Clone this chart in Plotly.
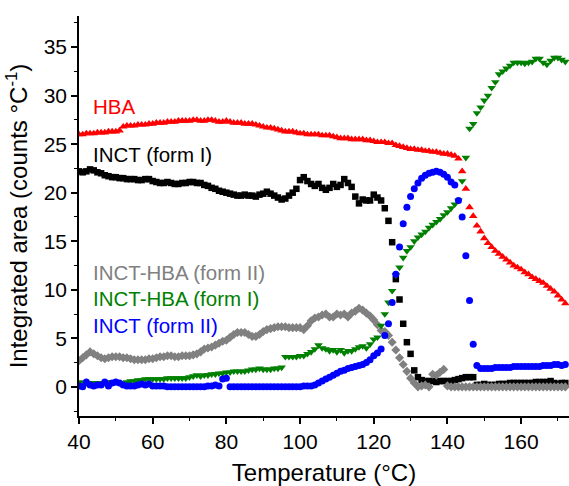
import plotly.graph_objects as go

temperature = [40, 41, 42, 43, 44, 45, 46, 47, 48, 49,
               50, 51, 52, 53, 54, 55, 56, 57, 58, 59,
               60, 61, 62, 63, 64, 65, 66, 67, 68, 69,
               70, 71, 72, 73, 74, 75, 76, 77, 78, 79,
               80, 81, 82, 83, 84, 85, 86, 87, 88, 89,
               90, 91, 92, 93, 94, 95, 96, 97, 98, 99,
               100, 101, 102, 103, 104, 105, 106, 107, 108, 109,
               110, 111, 112, 113, 114, 115, 116, 117, 118, 119,
               120, 121, 122, 123, 124, 125, 126, 127, 128, 129,
               130, 131, 132, 133, 134, 135, 136, 137, 138, 139,
               140, 141, 142, 143, 144, 145, 146, 147, 148, 149,
               150, 151, 152, 153, 154, 155, 156, 157, 158, 159,
               160, 161, 162, 163, 164, 165, 166, 167, 168, 169,
               170, 171, 172]

hba = [26.0, 26.0, 26.1, 26.1, 26.1, 26.2, 26.2, 26.2, 26.3, 26.3,
       26.3, 26.4, 26.8, 26.9, 26.9, 26.9, 27.0, 27.0, 27.0, 27.1,
       27.1, 27.2, 27.2, 27.2, 27.3, 27.3, 27.3, 27.4, 27.4, 27.4,
       27.4, 27.5, 27.5, 27.4, 27.4, 27.5, 27.5, 27.4, 27.3, 27.3,
       27.4, 27.3, 27.2, 27.2, 27.2, 27.1, 27.1, 27.1, 27.0, 26.9,
       26.8, 26.7, 26.7, 26.6, 26.5, 26.4, 26.3, 26.3, 26.3, 26.2,
       26.1, 26.1, 26.0, 26.0, 26.0, 26.0, 25.9, 25.9, 25.9, 25.8,
       25.7, 25.6, 25.6, 25.6, 25.5, 25.5, 25.5, 25.5, 25.4, 25.4,
       25.3, 25.2, 25.2, 25.2, 25.1, 25.1, 24.9, 24.8, 24.7, 24.6,
       24.5, 24.5, 24.4, 24.4, 24.3, 24.3, 24.2, 24.2, 24.1, 24.0,
       24.0, 23.9, 23.8, 23.5, 22.2, 20.4, 18.5, 17.6, 16.6, 16.0,
       15.3, 14.8, 14.4, 14.0, 13.7, 13.4, 13.1, 12.8, 12.5, 12.3,
       12.1, 11.8, 11.6, 11.3, 11.1, 10.9, 10.7, 10.4, 10.1, 9.8,
       9.4, 9.0, 8.6]

inct_form1 = [22.2, 22.1, 22.2, 22.4, 22.3, 22.1, 22.0, 21.8, 21.7, 21.6,
              21.6, 21.5, 21.5, 21.4, 21.4, 21.4, 21.3, 21.3, 21.4, 21.4,
              21.2, 21.1, 21.0, 21.0, 21.1, 21.0, 20.9, 20.9, 21.0, 21.0,
              21.1, 21.1, 21.0, 21.0, 20.8, 20.7, 20.5, 20.4, 20.2, 20.1,
              20.0, 19.9, 19.8, 19.7, 19.7, 19.8, 19.7, 19.7, 19.6, 19.8,
              19.9, 20.1, 19.9, 19.7, 19.5, 19.3, 19.4, 19.7, 20.0, 20.4,
              21.3, 21.6, 21.2, 20.9, 20.7, 20.9, 20.5, 20.3, 20.5, 20.9,
              20.6, 20.8, 21.4, 21.0, 20.6, 19.6, 18.9, 19.3, 19.2, 19.2,
              19.8, 19.5, 19.2, 18.4, 17.1, 14.9, 11.1, 9.0, 6.5, 4.6,
              3.4, 1.7, 1.0, 0.7, 0.6, 0.6, 0.6, 0.5, 0.6, 0.6,
              0.6, 0.6, 0.7, 0.8, 0.9, 1.0, 1.0, 1.0, 0.2, 0.2,
              0.3, 0.2, 0.2, 0.2, 0.3, 0.3, 0.3, 0.4, 0.4, 0.4,
              0.4, 0.4, 0.4, 0.4, 0.5, 0.5, 0.5, 0.5, 0.6, 0.4,
              0.3, 0.4, 0.4]

cocrystal_form2 = [2.7, 3.0, 3.3, 3.6, 3.4, 3.2, 3.0, 2.9, 3.0, 3.1,
                   3.1, 3.1, 3.0, 3.0, 2.9, 2.8, 2.8, 2.8, 2.8, 2.9,
                   2.9, 3.0, 3.1, 3.1, 3.2, 3.2, 3.1, 3.1, 3.2, 3.2,
                   3.2, 3.3, 3.4, 3.6, 3.9, 4.0, 4.1, 4.3, 4.5, 4.7,
                   4.8, 5.1, 5.4, 5.6, 5.6, 5.6, 5.4, 5.2, 5.2, 5.4,
                   5.7, 5.9, 6.0, 6.1, 6.2, 6.2, 6.2, 6.1, 6.1, 6.1,
                   6.1, 5.9, 6.3, 6.8, 7.1, 7.2, 7.4, 7.5, 7.2, 7.2,
                   7.5, 7.4, 7.5, 7.2, 7.6, 7.8, 8.1, 7.9, 7.6, 7.3,
                   6.9, 6.4, 5.8, 5.7, 5.3, 4.6, 3.8, 3.0, 2.3, 1.6,
                   0.9, 0.4, 0.0, 0.1, 0.2, 0.0, 1.3, 1.2, 1.5, 1.8,
                   0.1, 0.0, 0.0, 0.0, 0.0, 0.0, 0.0, 0.0, 0.0, 0.0,
                   0.0, 0.0, 0.0, 0.0, 0.0, 0.0, 0.0, 0.0, 0.0, 0.0,
                   0.0, 0.0, 0.0, 0.0, 0.0, 0.0, 0.0, 0.0, 0.0, 0.0,
                   0.0, 0.0, 0.0]

cocrystal_form1 = [0.5, 0.4, 0.4, 0.3, 0.4, 0.4, 0.4, 0.4, 0.5, 0.5,
                   0.5, 0.4, 0.3, 0.5, 0.6, 0.6, 0.7, 0.7, 0.8, 0.8,
                   0.8, 0.8, 0.8, 0.8, 0.9, 0.9, 0.9, 0.9, 0.9, 0.9,
                   1.0, 1.1, 1.2, 1.1, 1.2, 1.2, 1.3, 1.3, 1.4, 1.4,
                   1.5, 1.5, 1.6, 1.6, 1.6, 1.6, 1.7, 1.8, 1.8, 1.9,
                   1.8, 1.8, 1.8, 1.9, 1.9, 2.0, 3.1, 3.1, 3.1, 3.1,
                   3.2, 3.2, 3.4, 3.6, 3.9, 4.3, 4.0, 3.9, 3.7, 3.8,
                   3.6, 3.8, 3.5, 3.7, 3.7, 3.9, 4.1, 4.2, 4.0, 4.4,
                   4.9, 5.1, 6.3, 7.5, 8.7, 9.9, 11.5, 12.3, 13.3, 14.0,
                   14.4, 15.0, 15.4, 15.7, 16.0, 16.4, 16.7, 17.0, 17.3, 17.7,
                   18.0, 18.4, 18.8, 19.2, 21.2, 23.6, 26.6, 27.1, 28.2, 28.8,
                   29.5, 30.0, 30.8, 31.4, 32.2, 32.5, 32.8, 33.1, 33.4, 33.4,
                   33.4, 33.3, 33.4, 33.5, 33.8, 33.8, 33.4, 33.2, 33.6, 33.9,
                   33.9, 33.7, 33.5]

inct_form2 = [0.1, 0.0, 0.5, 0.2, 0.1, 0.2, 0.2, 0.5, 0.1, 0.4,
              0.5, 0.4, 0.2, 0.1, 0.1, 0.1, 0.2, 0.3, 0.2, 0.3,
              0.1, 0.1, 0.1, 0.1, 0.0, 0.0, 0.0, 0.0, 0.0, 0.0,
              0.0, 0.0, 0.0, 0.0, 0.0, 0.1, 0.1, 0.2, 0.1, 0.8,
              0.9, 0.0, 0.0, 0.0, 0.0, 0.0, 0.0, 0.0, 0.0, 0.0,
              0.0, 0.0, 0.0, 0.0, 0.0, 0.0, 0.0, 0.0, 0.0, 0.0,
              0.0, 0.1, 0.1, 0.1, 0.2, 0.4, 0.6, 0.8, 1.0, 1.2,
              1.4, 1.6, 1.7, 1.9, 2.0, 2.1, 2.2, 2.3, 2.5, 2.8,
              3.2, 3.5, 3.9, 5.3, 6.5, 8.7, 11.6, 14.4, 16.8, 18.5,
              19.6, 20.4, 21.0, 21.5, 21.8, 22.0, 22.1, 22.2, 22.1, 21.9,
              21.6, 21.1, 20.8, 19.2, 17.5, 13.5, 8.9, 4.4, 2.2, 1.9,
              1.9, 1.9, 1.9, 2.0, 2.0, 2.0, 2.0, 2.0, 2.1, 2.1,
              2.1, 2.1, 2.1, 2.1, 2.1, 2.1, 2.2, 2.2, 2.2, 2.3,
              2.3, 2.2, 2.3]

series_names = ["INCT (form I)", "HBA", "INCT-HBA (form II)", "INCT-HBA (form I)", "INCT (form II)"]
series_values = [inct_form1, hba, cocrystal_form2, cocrystal_form1, inct_form2]
series_colors = ["#000000", "#ff0000", "#808080", "#008000", "#0000ff"]
series_symbols = ["square", "triangle-up", "diamond", "triangle-down", "circle"]
series_sizes = [6.5, 7.5, 7, 7.5, 7]

# in-plot legend texts (data coordinates)
label_texts = ["HBA", "INCT (form I)", "INCT-HBA (form II)", "INCT-HBA (form I)", "INCT (form II)"]
label_colors = ["#ff0000", "#000000", "#808080", "#008000", "#0000ff"]
label_y = [28.9, 23.9, 11.8, 9.1, 6.3]
label_x = 43.2

FONT = "Arial, Liberation Sans, sans-serif"

fig = go.Figure()
for name, vals, col, sym, sz in zip(series_names, series_values, series_colors, series_symbols, series_sizes):
    fig.add_trace(go.Scatter(
        x=temperature, y=vals, mode="markers", name=name,
        marker=dict(symbol=sym, color=col, size=sz, line=dict(width=0)),
        showlegend=False,
    ))

for txt, col, yy in zip(label_texts, label_colors, label_y):
    fig.add_annotation(x=label_x, y=yy, text=txt, showarrow=False,
                       xanchor="left", yanchor="middle",
                       font=dict(family=FONT, size=20.5, color=col))

fig.update_layout(
    width=569, height=486,
    margin=dict(l=79, r=0, t=16, b=70),
    plot_bgcolor="white", paper_bgcolor="white",
    font=dict(family=FONT, color="#000000"),
    xaxis=dict(
        range=[40, 173], tick0=40, dtick=20,
        showline=True, linecolor="black", linewidth=1.5,
        ticks="outside", ticklen=6, tickwidth=1.5, tickcolor="black",
        minor=dict(ticks="outside", ticklen=3.5, tickwidth=1.2, tickcolor="black", dtick=10, tick0=40),
        showgrid=False, zeroline=False,
        tickfont=dict(family=FONT, size=21, color="black"),
        title=dict(text="Temperature (°C)", font=dict(family=FONT, size=24, color="black"), standoff=12),
        automargin=False,
    ),
    yaxis=dict(
        range=[-3, 38.2], tick0=0, dtick=5,
        showline=True, linecolor="black", linewidth=1.5,
        ticks="outside", ticklen=6, tickwidth=1.5, tickcolor="black",
        minor=dict(ticks="outside", ticklen=3.5, tickwidth=1.2, tickcolor="black", dtick=2.5, tick0=0),
        showgrid=False, zeroline=False,
        tickfont=dict(family=FONT, size=21, color="black"),
        title=dict(text="Integrated area (counts °C<sup>-1</sup>)", font=dict(family=FONT, size=24, color="black"), standoff=9),
        automargin=False,
    ),
)

fig.write_html(
    "out.html",
    config={"displayModeBar": False},
    post_script="document.body.style.margin='0';document.body.style.overflow='hidden';",
)
